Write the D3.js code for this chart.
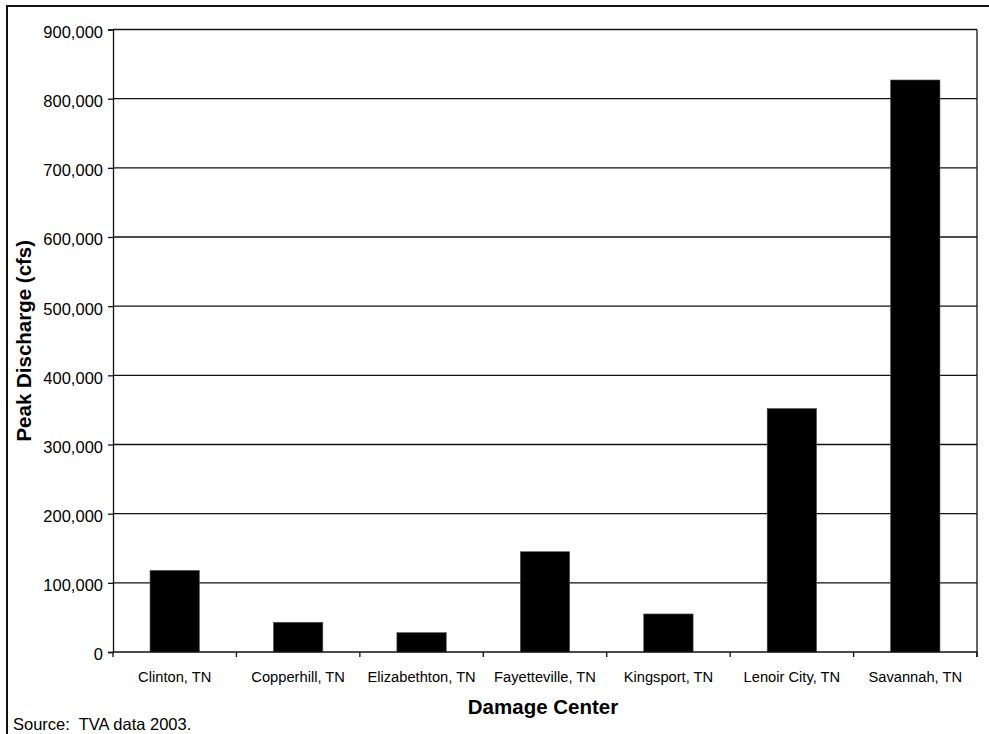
<!DOCTYPE html>
<html>
<head>
<meta charset="utf-8">
<script src="https://cdn.jsdelivr.net/npm/d3@7"></script>
<style>
  html, body { margin: 0; padding: 0; background: #fff; }
  svg { display: block; font-family: Arial, "Liberation Sans", sans-serif; }
</style>
</head>
<body>
<svg id="chart" width="989" height="734"></svg>
<script>
// Peak discharge at TVA damage centers
const categories = ["Clinton, TN", "Copperhill, TN", "Elizabethton, TN", "Fayetteville, TN",
                    "Kingsport, TN", "Lenoir City, TN", "Savannah, TN"];
const peakDischarge = [118000, 43000, 28000, 145000, 55000, 352000, 827000];
const yTicks = [0, 100000, 200000, 300000, 400000, 500000, 600000, 700000, 800000, 900000];

const svg = d3.select("#chart");
const plot = { left: 113, right: 977, top: 29.5, bottom: 652 };

// outer frame (only left and top edges fall inside the page)
svg.append("path")
  .attr("d", "M7,740 L7,6 L995,6")
  .attr("fill", "none").attr("stroke", "#111").attr("stroke-width", 2);

const x = d3.scaleBand()
  .domain(categories)
  .range([plot.left, plot.right])
  .paddingInner(0.6)
  .paddingOuter(0.3);

const y = d3.scaleLinear()
  .domain([0, 900000])
  .range([plot.bottom, plot.top]);

// horizontal gridlines
svg.append("g").selectAll("line").data(yTicks.filter(d => d > 0)).join("line")
  .attr("x1", plot.left).attr("x2", plot.right)
  .attr("y1", d => y(d)).attr("y2", d => y(d))
  .attr("stroke", "#111").attr("stroke-width", 1.3);

// right edge of plot area
svg.append("line")
  .attr("x1", plot.right).attr("x2", plot.right)
  .attr("y1", plot.top).attr("y2", plot.bottom + 5)
  .attr("stroke", "#111").attr("stroke-width", 1.3);

// bars
svg.append("g").selectAll("rect").data(categories).join("rect")
  .attr("x", d => x(d))
  .attr("width", x.bandwidth())
  .attr("y", (d, i) => y(peakDischarge[i]))
  .attr("height", (d, i) => y(0) - y(peakDischarge[i]))
  .attr("fill", "#000")
  .attr("stroke", "#555").attr("stroke-width", 0.6);

// y axis
const yAxis = d3.axisLeft(y)
  .tickValues(yTicks)
  .tickSize(5)
  .tickPadding(5)
  .tickFormat(d3.format(","));
const gy = svg.append("g").attr("transform", `translate(${plot.left},0)`).call(yAxis);
gy.select(".domain").attr("stroke", "#111").attr("stroke-width", 1.3);
gy.selectAll(".tick line").attr("stroke", "#111").attr("stroke-width", 1.3);
gy.selectAll(".tick text")
  .attr("font-size", "16.5px").attr("font-family", "Arial, 'Liberation Sans', sans-serif")
  .attr("fill", "#000").attr("dy", "0.48em");

// x axis line
svg.append("line")
  .attr("x1", plot.left).attr("x2", plot.right)
  .attr("y1", plot.bottom).attr("y2", plot.bottom)
  .attr("stroke", "#111").attr("stroke-width", 1.3);

// x ticks at category boundaries
const step = x.step();
const boundaries = categories.map(c => x(c) + x.bandwidth() / 2 - step / 2);
boundaries.push(x(categories[categories.length - 1]) + x.bandwidth() / 2 + step / 2);
svg.append("g").selectAll("line").data(boundaries).join("line")
  .attr("x1", d => d).attr("x2", d => d)
  .attr("y1", plot.bottom).attr("y2", plot.bottom + 5)
  .attr("stroke", "#111").attr("stroke-width", 1.3);

// category labels
svg.append("g").selectAll("text").data(categories).join("text")
  .attr("x", d => x(d) + x.bandwidth() / 2)
  .attr("y", 682)
  .attr("text-anchor", "middle")
  .attr("font-size", "14.7px")
  .attr("fill", "#000")
  .text(d => d);

// axis titles
svg.append("text")
  .attr("x", (plot.left + plot.right) / 2 - 2)
  .attr("y", 714)
  .attr("text-anchor", "middle")
  .attr("font-size", "20.5px").attr("font-weight", "bold")
  .text("Damage Center");

svg.append("text")
  .attr("transform", `translate(31,${(plot.top + plot.bottom) / 2}) rotate(-90)`)
  .attr("text-anchor", "middle")
  .attr("font-size", "20.5px").attr("font-weight", "bold")
  .text("Peak Discharge (cfs)");

// source note
svg.append("text")
  .attr("x", 13).attr("y", 730)
  .attr("font-size", "16.5px")
  .attr("xml:space", "preserve")
  .style("white-space", "pre")
  .text("Source:  TVA data 2003.");
</script>
</body>
</html>
